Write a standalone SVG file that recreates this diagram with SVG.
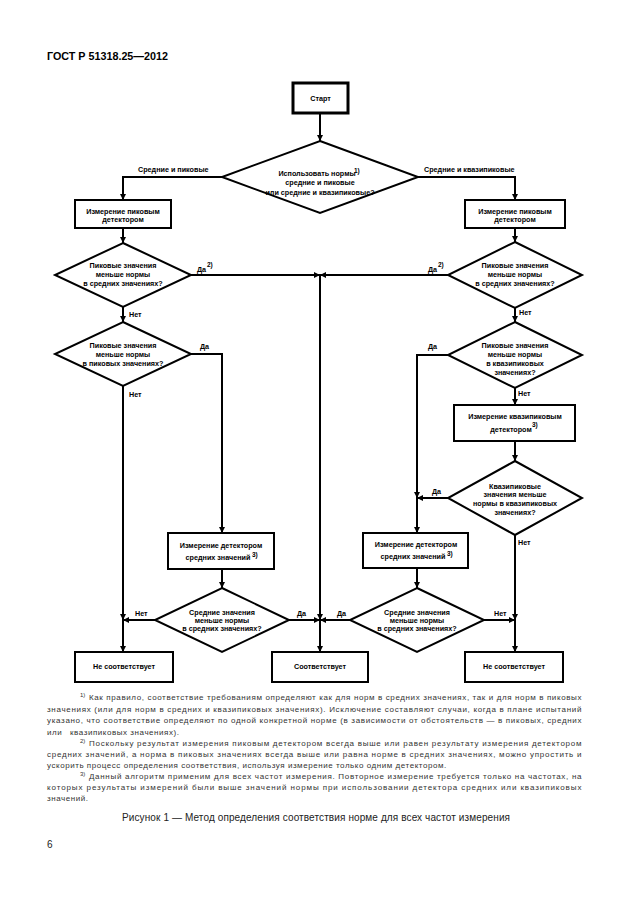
<svg xmlns="http://www.w3.org/2000/svg" width="630" height="913" viewBox="0 0 630 913">
<style>
.bx{fill:#fff;stroke:#000;stroke-width:2}
.st{fill:#fff;stroke:#000;stroke-width:3}
.dm{fill:#fff;stroke:#000;stroke-width:2}
.ln{fill:none;stroke:#000;stroke-width:2}
.t{font-family:"Liberation Sans",Arial,sans-serif;font-weight:bold;font-size:7.2px;text-anchor:middle;fill:#000}
.lb{font-family:"Liberation Sans",Arial,sans-serif;font-weight:bold;font-size:7.2px;fill:#000}
.sp{font-family:"Liberation Sans",Arial,sans-serif;font-weight:bold;font-size:6.5px;fill:#000}
.fn{font-family:"Liberation Sans",Arial,sans-serif;font-size:8px;fill:#333;letter-spacing:0.55px}
.fs{font-family:"Liberation Sans",Arial,sans-serif;font-size:6px;fill:#333}
.cap{font-family:"Liberation Sans",Arial,sans-serif;font-size:10px;fill:#222}
.hd{font-family:"Liberation Sans",Arial,sans-serif;font-weight:bold;font-size:11px;fill:#000}
</style>
<defs>
<marker id="ar" markerUnits="userSpaceOnUse" markerWidth="6" markerHeight="6" refX="6" refY="3" orient="auto">
<path d="M0,0 L6,3 L0,6 z" fill="#000"/>
</marker>
</defs>

<text class="hd" x="47" y="60" textLength="121" lengthAdjust="spacingAndGlyphs">ГОСТ Р 51318.25—2012</text>

<g id="connectors">
<path class="ln" d="M320,113 V141" marker-end="url(#ar)"/>
<path class="ln" d="M222,177 H123 V200" marker-end="url(#ar)"/>
<path class="ln" d="M418,177 H515 V200" marker-end="url(#ar)"/>
<path class="ln" d="M123,228 V243" marker-end="url(#ar)"/>
<path class="ln" d="M515,228 V242" marker-end="url(#ar)"/>
<path class="ln" d="M191,275 H320" marker-end="url(#ar)"/>
<path class="ln" d="M448,275 H320" marker-end="url(#ar)"/>
<path class="ln" d="M320,275 V620" marker-end="url(#ar)"/>
<path class="ln" d="M320,620 V652" marker-end="url(#ar)"/>
<path class="ln" d="M123,307 V322" marker-end="url(#ar)"/>
<path class="ln" d="M191,354 H222 V533" marker-end="url(#ar)"/>
<path class="ln" d="M123,386 V620" marker-end="url(#ar)"/>
<path class="ln" d="M123,620 V652" marker-end="url(#ar)"/>
<path class="ln" d="M515,308 V322" marker-end="url(#ar)"/>
<path class="ln" d="M448,355 H417 V498" marker-end="url(#ar)"/>
<path class="ln" d="M417,498 V533" marker-end="url(#ar)"/>
<path class="ln" d="M515,388 V405" marker-end="url(#ar)"/>
<path class="ln" d="M515,441 V461" marker-end="url(#ar)"/>
<path class="ln" d="M448,498 H417" marker-end="url(#ar)"/>
<path class="ln" d="M515,535 V620" marker-end="url(#ar)"/>
<path class="ln" d="M515,620 V652" marker-end="url(#ar)"/>
<path class="ln" d="M222,569 V588" marker-end="url(#ar)"/>
<path class="ln" d="M155,620 H123" marker-end="url(#ar)"/>
<path class="ln" d="M289,620 H320" marker-end="url(#ar)"/>
<path class="ln" d="M417,568 V588" marker-end="url(#ar)"/>
<path class="ln" d="M350,620 H320" marker-end="url(#ar)"/>
<path class="ln" d="M484,620 H515" marker-end="url(#ar)"/>
<text class="lb" x="138" y="172">Средние и пиковые</text>
<text class="lb" x="424" y="172">Средние и квазипиковые</text>
<text class="lb" x="197" y="272">Да</text><text class="sp" x="207" y="267">2)</text>
<text class="lb" x="428" y="272">Да</text><text class="sp" x="438" y="267">2)</text>
<text class="lb" x="129" y="317">Нет</text>
<text class="lb" x="200" y="349">Да</text>
<text class="lb" x="129" y="397">Нет</text>
<text class="lb" x="519" y="315">Нет</text>
<text class="lb" x="428" y="349">Да</text>
<text class="lb" x="518" y="396">Нет</text>
<text class="lb" x="432" y="494">Да</text>
<text class="lb" x="518" y="545">Нет</text>
<text class="lb" x="135" y="616">Нет</text>
<text class="lb" x="297" y="616">Да</text>
<text class="lb" x="337" y="616">Да</text>
<text class="lb" x="494" y="616">Нет</text>
</g>

<g id="start">
<rect class="st" x="293" y="83" width="55" height="30"/>
<text class="t" x="320.5" y="100.5">Старт</text>
</g>

<g id="d1">
<polygon class="dm" points="320,141 418,177 320,213 222,177"/>
<text class="t" x="317" y="175.5">Использовать нормы</text>
<text class="sp" x="354" y="173">1)</text>
<text class="t" x="320" y="185">средние и пиковые</text>
<text class="t" x="320" y="194.5">или средние и квазипиковые?</text>
</g>

<g id="peakL">
<rect class="bx" x="75" y="200" width="96" height="28"/>
<text class="t" x="123" y="213.5">Измерение пиковым</text>
<text class="t" x="123" y="221.5">детектором</text>
</g>

<g id="peakR">
<rect class="bx" x="465" y="200" width="100" height="28"/>
<text class="t" x="515" y="213.5">Измерение пиковым</text>
<text class="t" x="515" y="221.5">детектором</text>
</g>

<g id="dL2">
<polygon class="dm" points="123,243 191,275 123,307 55,275"/>
<text class="t" x="123" y="267.5">Пиковые значения</text>
<text class="t" x="123" y="276.5">меньше нормы</text>
<text class="t" x="123" y="285.5">в средних значениях?</text>
</g>

<g id="dR2">
<polygon class="dm" points="515,242 582,275 515,308 448,275"/>
<text class="t" x="515" y="267.5">Пиковые значения</text>
<text class="t" x="515" y="276.5">меньше нормы</text>
<text class="t" x="515" y="285.5">в средних значениях?</text>
</g>

<g id="dL3">
<polygon class="dm" points="123,322 191,354 123,386 55,354"/>
<text class="t" x="123" y="347.5">Пиковые значения</text>
<text class="t" x="123" y="356.5">меньше нормы</text>
<text class="t" x="123" y="365.5">в пиковых значениях?</text>
</g>

<g id="dR3">
<polygon class="dm" points="515,322 582,355 515,388 448,355"/>
<text class="t" x="515" y="347.5">Пиковые значения</text>
<text class="t" x="515" y="356.5">меньше нормы</text>
<text class="t" x="515" y="365.5">в квазипиковых</text>
<text class="t" x="515" y="374.5">значениях?</text>
</g>

<g id="qp">
<rect class="bx" x="454" y="405" width="121" height="36"/>
<text class="t" x="515" y="418.5">Измерение квазипиковым</text>
<text class="t" x="511" y="431.5">детектором</text>
<text class="sp" x="532" y="427">3)</text>
</g>

<g id="dR4">
<polygon class="dm" points="515,461 582,498 515,535 448,498"/>
<text class="t" x="515" y="488.5">Квазипиковые</text>
<text class="t" x="515" y="497">значения меньше</text>
<text class="t" x="515" y="505.5">нормы в квазипиковых</text>
<text class="t" x="515" y="514.5">значениях?</text>
</g>

<g id="avgL">
<rect class="bx" x="168" y="533" width="106" height="36"/>
<text class="t" x="221" y="547.5">Измерение детектором</text>
<text class="t" x="218" y="560">средних значений</text>
<text class="sp" x="252" y="556.5">3)</text>
</g>

<g id="avgR">
<rect class="bx" x="363" y="533" width="105" height="35"/>
<text class="t" x="416" y="546.5">Измерение детектором</text>
<text class="t" x="413" y="559">средних значений</text>
<text class="sp" x="447" y="555.5">3)</text>
</g>

<g id="dLB">
<polygon class="dm" points="222,588 289,620 222,652 155,620"/>
<text class="t" x="222" y="614.5">Средние значения</text>
<text class="t" x="222" y="622.5">меньше нормы</text>
<text class="t" x="222" y="630.5">в средних значениях?</text>
</g>

<g id="dRB">
<polygon class="dm" points="417,588 484,620 417,652 350,620"/>
<text class="t" x="417" y="614.5">Средние значения</text>
<text class="t" x="417" y="622.5">меньше нормы</text>
<text class="t" x="417" y="630.5">в средних значениях?</text>
</g>

<g id="failL">
<rect class="bx" x="75" y="652" width="98" height="30"/>
<text class="t" x="124" y="669">Не соответствует</text>
</g>

<g id="pass">
<rect class="bx" x="272" y="652" width="96" height="30"/>
<text class="t" x="320" y="669">Соответствует</text>
</g>

<g id="failR">
<rect class="bx" x="465" y="652" width="98" height="30"/>
<text class="t" x="514" y="669">Не соответствует</text>
</g>

<g id="notes">
<text class="fs" x="80" y="697">1)</text>
<text class="fn" x="89" y="700" textLength="493" lengthAdjust="spacing">Как правило, соответствие требованиям определяют как для норм в средних значениях, так и для норм в пиковых</text>
<text class="fn" x="47" y="711.5" textLength="535" lengthAdjust="spacing">значениях (или для норм в средних и квазипиковых значениях). Исключение составляют случаи, когда в плане испытаний</text>
<text class="fn" x="47" y="723" textLength="535" lengthAdjust="spacing">указано, что соответствие определяют по одной конкретной норме (в зависимости от обстоятельств — в пиковых, средних</text>
<text class="fn" x="47" y="734.5">или</text>
<text class="fn" x="70" y="734.5">квазипиковых значениях).</text>
<text class="fs" x="80" y="743">2)</text>
<text class="fn" x="89" y="746" textLength="493" lengthAdjust="spacing">Поскольку результат измерения пиковым детектором всегда выше или равен результату измерения детектором</text>
<text class="fn" x="47" y="757" textLength="535" lengthAdjust="spacing">средних значений, а норма в пиковых значениях всегда выше или равна норме в средних значениях, можно упростить и</text>
<text class="fn" x="47" y="768">ускорить процесс определения соответствия, используя измерение только одним детектором.</text>
<text class="fs" x="80" y="776">3)</text>
<text class="fn" x="89" y="779" textLength="493" lengthAdjust="spacing">Данный алгоритм применим для всех частот измерения. Повторное измерение требуется только на частотах, на</text>
<text class="fn" x="47" y="790" textLength="535" lengthAdjust="spacing">которых результаты измерений были выше  значений нормы при использовании  детектора средних или квазипиковых</text>
<text class="fn" x="47" y="801">значений.</text>
</g>

<text class="cap" x="122" y="821" textLength="388" lengthAdjust="spacing">Рисунок 1 — Метод определения соответствия норме для всех частот измерения</text>
<text class="cap" x="47" y="848">6</text>
</svg>
